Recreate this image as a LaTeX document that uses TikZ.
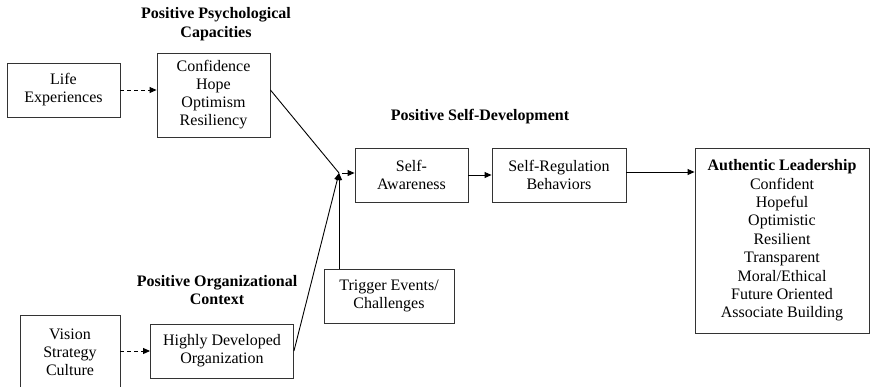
\documentclass[tikz,border=0pt]{standalone}
\usepackage{fontspec}
\setmainfont{Liberation Serif}
\usetikzlibrary{arrows.meta}
\begin{document}
\begin{tikzpicture}[x=1pt,y=-1pt,line width=0.9pt,
  >={Triangle[length=7pt,width=6pt]},
  box/.style={draw=black!80,rectangle,align=center,font=\fontsize{16}{18}\selectfont,inner sep=2pt},
  heading/.style={align=center,font=\fontsize{16}{18.5}\selectfont\bfseries},
  dasharrow/.style={->,dashed,dash pattern=on 4pt off 3pt}]
\useasboundingbox (0,0) rectangle (871,386);
% left column
\node[box,minimum width=113pt,minimum height=54pt] (life) at (63.5,90) {Life\\Experiences};
\node[box,minimum width=100pt,minimum height=74pt] (vision) at (70,352) {Vision\\Strategy\\Culture};
% capacities and context
\node[heading] (psytitle) at (216,24) {Positive Psychological\\Capacities};
\node[box,minimum width=113pt,minimum height=84pt] (capac) at (213.5,95) {Confidence\\Hope\\Optimism\\Resiliency};
\node[heading] (orgtitle) at (217,290) {Positive Organizational\\Context};
\node[box,minimum width=143pt,minimum height=54pt] (highly) at (222,351) {Highly Developed\\Organization};
\node[box,minimum width=130pt,minimum height=54pt] (trigger) at (389,296) {Trigger Events/\\Challenges};
% self-development
\coordinate (junc) at (339,173);
\node[heading] (sdtitle) at (480,117) {Positive Self-Development};
\node[box,minimum width=113pt,minimum height=54pt] (aware) at (411.5,175) {Self-\\Awareness};
\node[box,minimum width=134pt,minimum height=54pt] (regul) at (559,175) {Self-Regulation\\Behaviors};
\node[box,minimum width=174pt,minimum height=185pt,font=\fontsize{16}{18.4}\selectfont] (auth) at (782,240.5) {\textbf{Authentic Leadership}\\Confident\\Hopeful\\Optimistic\\Resilient\\Transparent\\Moral/Ethical\\Future Oriented\\Associate Building};
% connectors
\draw[dasharrow] (life.east) -- (life.east -| capac.west);
\draw[dasharrow] (vision.east |- highly.west) -- (highly.west);
\draw ([yshift=5pt]capac.east) -- (junc);
\draw[->] (highly.east) -- (junc);
\draw[->] (junc |- trigger.north) -- (junc);
\draw[->] ([xshift=3pt]junc) -- (junc -| aware.west);
\draw[->] (aware) -- (regul);
\draw[->] ([yshift=3pt]regul.east) -- ([yshift=3pt]regul.east -| auth.west);
\end{tikzpicture}
\end{document}
